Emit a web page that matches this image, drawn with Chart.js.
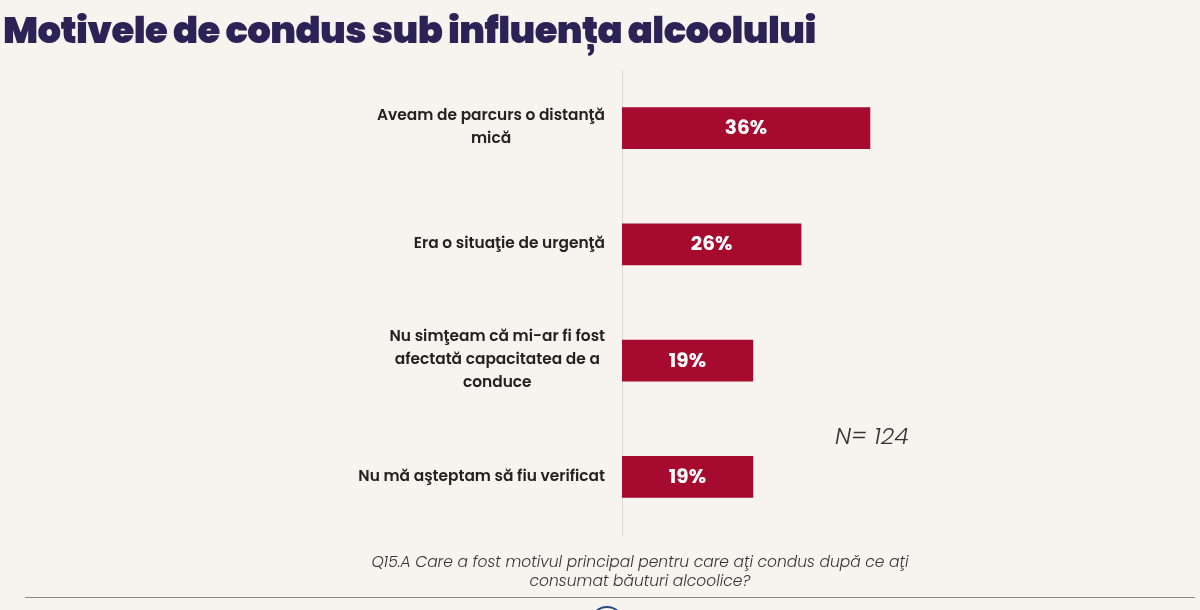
<!DOCTYPE html>
<html><head><meta charset="utf-8">
<script src="https://cdn.jsdelivr.net/npm/chart.js@4.4.1/dist/chart.umd.min.js"></script>
<style>
html,body{margin:0;padding:0;background:#f7f4ef;width:1200px;height:610px;overflow:hidden;}
#wrap{position:absolute;left:0;top:0;width:1200px;height:610px;}
#title{position:absolute;left:3px;top:2px;font-family:Poppins,Inter,"Noto Sans",sans-serif;font-weight:900;font-size:37px;color:#2b2356;letter-spacing:-0.6px;white-space:nowrap;}
#n{position:absolute;left:835px;top:418px;font-family:Poppins,"Noto Sans",sans-serif;font-style:italic;font-weight:300;font-size:23.5px;color:#333;}
#foot{position:absolute;left:240px;width:800px;top:552px;text-align:center;font-family:Poppins,"Noto Sans",sans-serif;font-style:italic;font-weight:300;font-size:15.5px;line-height:19px;color:#333;}
#rule{position:absolute;left:25px;width:1170px;top:597px;height:1px;background:#8a8a8a;}
#logo{position:absolute;left:590px;top:606px;width:34px;height:34px;border-radius:50%;border:2px solid #2b4a80;box-sizing:border-box;}
</style></head>
<body>
<div id="wrap"><canvas id="c" width="1200" height="610"></canvas></div>
<div id="title">Motivele de condus sub influența alcoolului</div>
<div id="n">N= 124</div>
<div id="foot">Q15.A Care a fost motivul principal pentru care aţi condus după ce aţi<br>consumat băuturi alcoolice?</div>
<div id="rule"></div>
<div id="logo"></div>
<script>
const categories = [
  ["Aveam de parcurs o distanţă", "mică"],
  ["Era o situaţie de urgenţă"],
  ["Nu simţeam că mi-ar fi fost", "afectată capacitatea de a", "conduce"],
  ["Nu mă aşteptam să fiu verificat"]
];
const values = [36, 26, 19, 19];
const valueLabels = ["36%", "26%", "19%", "19%"];

const labelPlugin = {
  id: 'labelPlugin',
  afterDatasetsDraw(chart) {
    const ctx = chart.ctx;
    const y = chart.scales.y;
    const meta = chart.getDatasetMeta(0);
    ctx.save();
    ctx.font = '600 15.4px Poppins, "Noto Sans", sans-serif';
    ctx.fillStyle = '#222';
    ctx.textAlign = 'center';
    ctx.textBaseline = 'middle';
    const lh = 23;
    const rightEdge = chart.chartArea.left - 17;
    categories.forEach((lines, i) => {
      const cy = y.getPixelForTick(i);
      const w = Math.max(...lines.map(l => ctx.measureText(l).width));
      const cx = rightEdge - w / 2;
      const y0 = cy - (lines.length - 1) * lh / 2;
      lines.forEach((l, k) => ctx.fillText(l, cx, y0 + k * lh));
    });
    ctx.font = 'bold 20px Poppins, "Noto Sans", sans-serif';
    ctx.fillStyle = '#ffffff';
    meta.data.forEach((bar, i) => {
      const p = bar.getProps(['x', 'y', 'base'], true);
      ctx.fillText(valueLabels[i], (p.x + p.base) / 2, p.y + 1);
    });
    ctx.restore();
  }
};

new Chart(document.getElementById('c'), {
  type: 'bar',
  data: {
    labels: categories,
    datasets: [{
      data: values,
      backgroundColor: '#a60a2f',
      barThickness: 41,
      borderWidth: 0
    }]
  },
  options: {
    indexAxis: 'y',
    responsive: false,
    animation: false,
    events: [],
    layout: { padding: { left: 622, top: 70, bottom: 75, right: 27 } },
    plugins: { legend: { display: false }, tooltip: { enabled: false } },
    scales: {
      x: { display: false, min: 0, max: 80 },
      y: {
        display: true,
        ticks: { display: false },
        grid: { display: false, drawTicks: false },
        border: { display: true, color: '#dcd8d3', width: 1 }
      }
    }
  },
  plugins: [labelPlugin]
});
</script>
</body></html>
